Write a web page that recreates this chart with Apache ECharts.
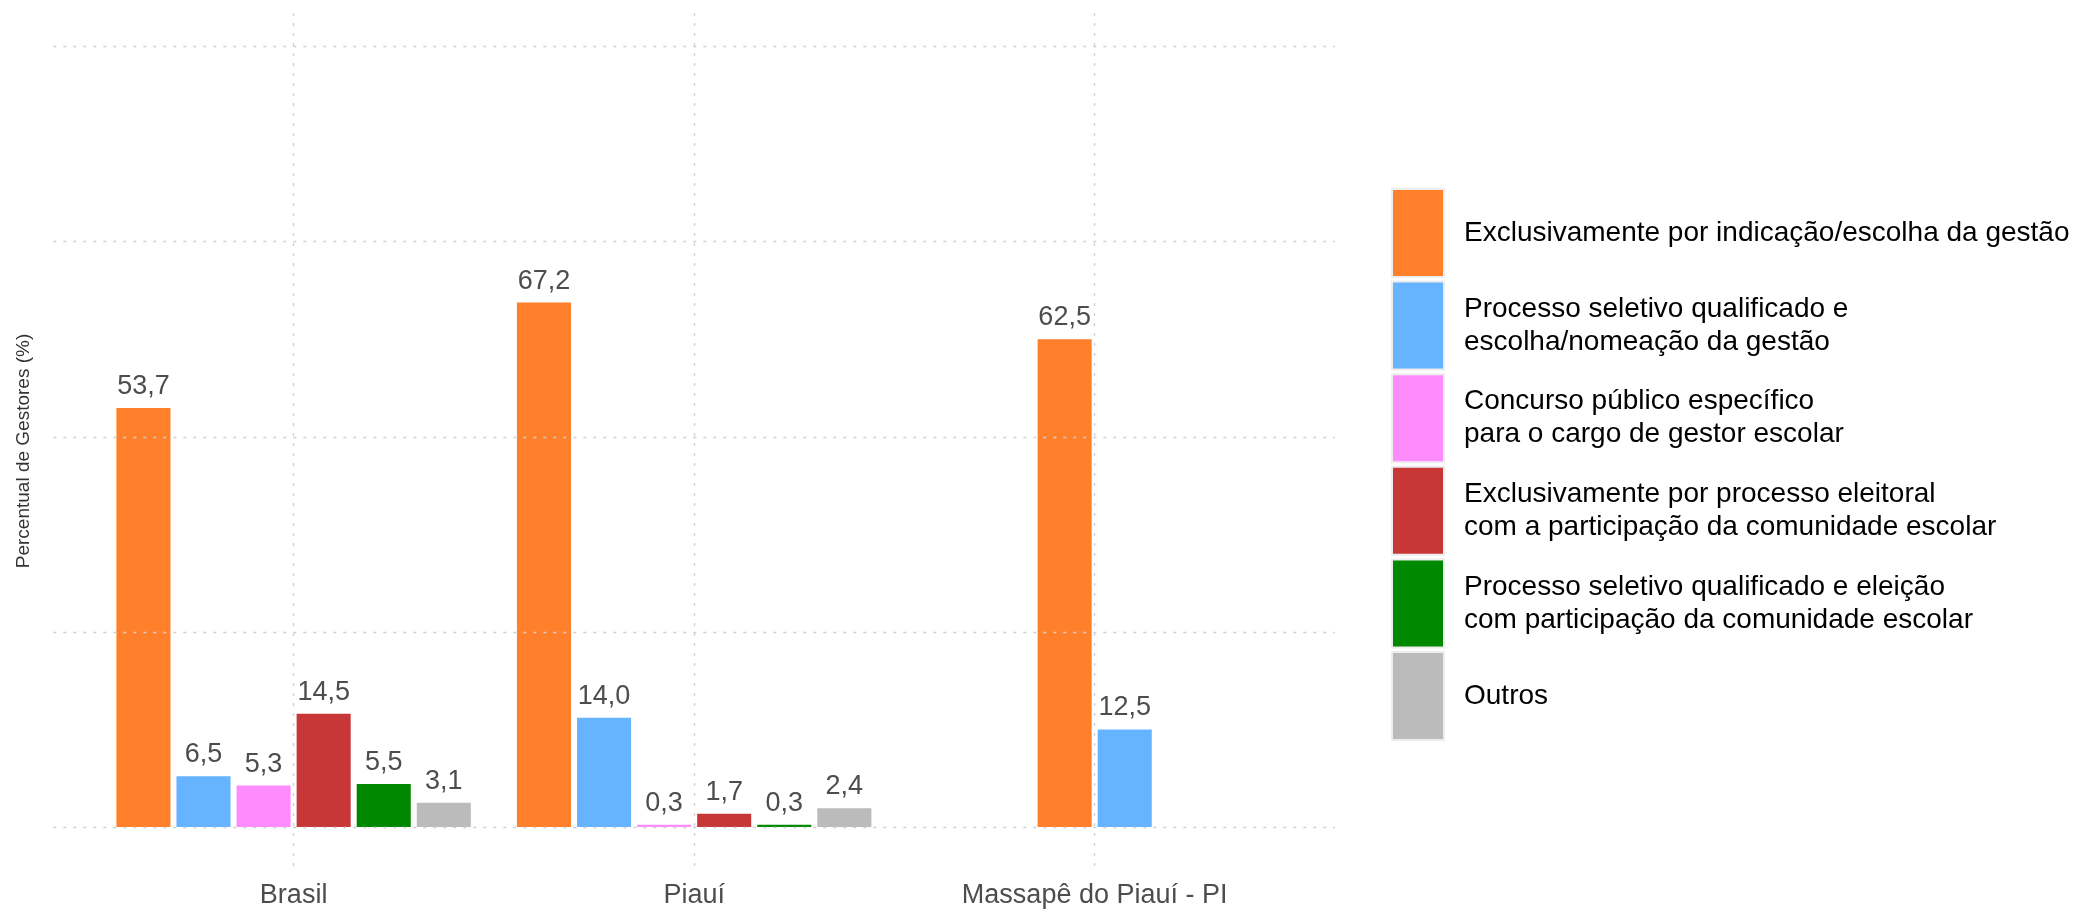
<!DOCTYPE html>
<html>
<head>
<meta charset="utf-8">
<script src="https://cdn.jsdelivr.net/npm/echarts@6/dist/echarts.min.js"></script>
<style>
  html, body { margin: 0; padding: 0; background: #fff; }
  #chart { width: 2083px; height: 909px; }
</style>
</head>
<body>
<div id="chart"></div>
<script>
// ---- data ----
const categories = ['Brasil', 'Piauí', 'Massapê do Piauí - PI'];
const seriesNames = [
  'Exclusivamente por indicação/escolha da gestão',
  'Processo seletivo qualificado e\nescolha/nomeação da gestão',
  'Concurso público específico\npara o cargo de gestor escolar',
  'Exclusivamente por processo eleitoral\ncom a participação da comunidade escolar',
  'Processo seletivo qualificado e eleição\ncom participação da comunidade escolar',
  'Outros'
];
const indicacao      = [53.7, 67.2, 62.5];
const seletivoNomeac = [6.5, 14.0, 12.5];
const concurso       = [5.3, 0.3, null];
const eleitoral      = [14.5, 1.7, null];
const seletivoEleic  = [5.5, 0.3, null];
const outros         = [3.1, 2.4, null];
const yGridTicks     = [0, 25, 50, 75, 100];

const seriesValues = [indicacao, seletivoNomeac, concurso, eleitoral, seletivoEleic, outros];
const colors = ['#FF7F2A', '#66B3FF', '#FF8CFF', '#C83737', '#008800', '#BBBBBB'];
const FONT = '"Liberation Sans", Arial, Helvetica, sans-serif';

// which series are present in each category (dodge2, preserve = single)
const present = categories.map((_, c) =>
  seriesValues.map((arr, s) => (arr[c] == null ? -1 : s)).filter(s => s >= 0)
);
const nSlots = seriesValues.length;
const fmt = v => v.toFixed(1).replace('.', ',');

function renderBar(params, api) {
  const xi = api.value(0);
  const v = api.value(1);
  const c = xi - 1;
  const list = present[c];
  const n = list.length;
  const k = list.indexOf(params.seriesIndex);
  const base = api.coord([xi, 0]);
  const top = api.coord([xi, v]);
  const unit = api.size([1, 0])[0];
  const slot = unit * 0.9 / nSlots;
  const bw = slot * 0.9;
  const cx = base[0] + (k - (n - 1) / 2) * slot;
  return {
    type: 'group',
    children: [
      {
        type: 'rect',
        shape: { x: cx - bw / 2, y: top[1], width: bw, height: base[1] - top[1] },
        style: { fill: api.visual('color') }
      },
      {
        type: 'text',
        style: {
          text: fmt(v), x: cx, y: top[1] - 8,
          align: 'center', verticalAlign: 'bottom',
          fill: '#4D4D4D', font: '27px ' + FONT
        }
      }
    ]
  };
}

const series = seriesValues.map((arr, s) => ({
  type: 'custom',
  name: seriesNames[s],
  itemStyle: { color: colors[s] },
  encode: { x: 0, y: 1 },
  z: 3,
  renderItem: renderBar,
  data: arr.map((v, c) => (v == null ? null : [c + 1, v])).filter(d => d)
}));

const gridLineStyle = { color: '#CFCFCF', width: 1.3, type: [3, 7] };
series.push({
  type: 'line',
  data: [],
  silent: true,
  z: 1,
  markLine: {
    silent: true,
    symbol: 'none',
    label: { show: false },
    lineStyle: gridLineStyle,
    emphasis: { disabled: true },
    data: yGridTicks.map(t => ({ yAxis: t })).concat(categories.map((_, i) => ({ xAxis: i + 1 })))
  }
});

const chart = echarts.init(document.getElementById('chart'), null, { renderer: 'canvas' });
chart.setOption({
  animation: false,
  color: colors,
  textStyle: { fontFamily: FONT },
  grid: { left: 53.3, top: 7.6, right: 748, bottom: 41.6, containLabel: false },
  xAxis: {
    type: 'value',
    min: 0.4,
    max: 3.6,
    axisLine: { show: false },
    axisTick: { show: false },
    splitLine: { show: false },
    axisLabel: {
      customValues: categories.map((_, i) => i + 1),
      formatter: v => categories[Math.round(v) - 1] || '',
      color: '#4D4D4D',
      fontSize: 27,
      fontFamily: FONT,
      margin: 16
    }
  },
  yAxis: {
    type: 'value',
    min: -5,
    max: 105,
    axisLine: { show: false },
    axisTick: { show: false },
    axisLabel: { show: false },
    splitLine: { show: false }
  },
  legend: {
    orient: 'vertical',
    left: 1391,
    top: 188,
    padding: 0,
    icon: 'rect',
    itemWidth: 52,
    itemHeight: 88,
    itemGap: 2.6,
    selectedMode: false,
    data: seriesNames,
    itemStyle: { borderColor: '#EDEDED', borderWidth: 2 },
    textStyle: { fontSize: 28, lineHeight: 33, color: '#000', fontFamily: FONT, padding: [0, 0, 0, 15] }
  },
  graphic: [{
    type: 'text',
    x: 24, y: 451,
    rotation: Math.PI / 2,
    style: {
      text: 'Percentual de Gestores (%)',
      align: 'center', verticalAlign: 'middle',
      fill: '#333', font: '19px ' + FONT
    }
  }],
  series: series
});
</script>
</body>
</html>
